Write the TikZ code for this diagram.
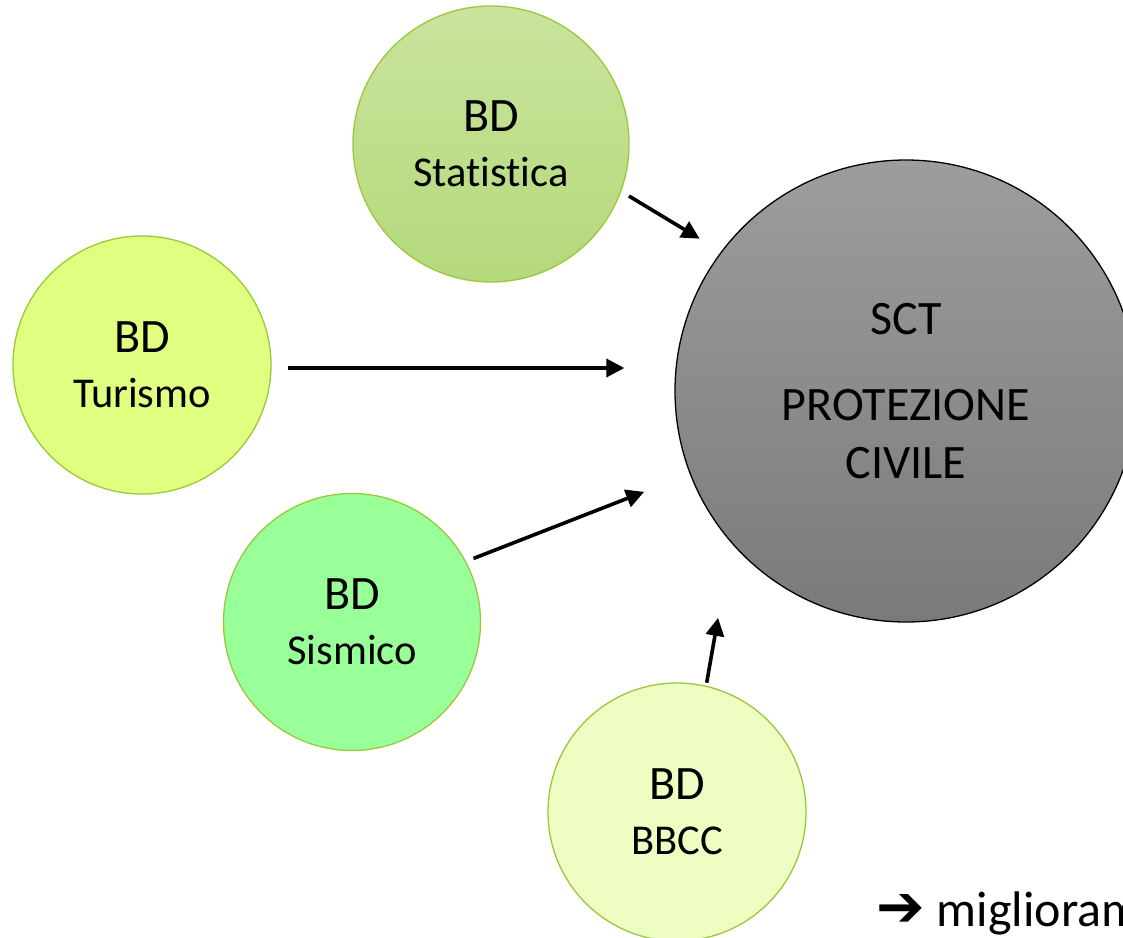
\documentclass[tikz,border=0pt]{standalone}
\usepackage{fontspec}
\setmainfont[Ligatures=NoCommon]{Carlito}
\newfontfamily\symfont{DejaVu Sans}
\usetikzlibrary{arrows.meta,calc}
\definecolor{bdborder}{HTML}{9BC83A}
\definecolor{statTop}{HTML}{C9E49D}
\definecolor{statBot}{HTML}{B4D97B}
\definecolor{turFill}{HTML}{E0FF80}
\definecolor{sisFill}{HTML}{99FF99}
\definecolor{bbFill}{HTML}{EEFDC2}
\definecolor{sctTop}{HTML}{9D9D9D}
\definecolor{sctBot}{HTML}{7A7A7A}
\newcommand{\bdsmall}[1]{{\fontsize{42.5}{55}\selectfont #1}}
\tikzset{
  bdcircle/.style={circle, draw=bdborder, line width=1.3pt, inner sep=0pt, align=center, text=black,
    font=\fontsize{48}{55}\selectfont},
  sctcircle/.style={circle, draw=black, line width=1.3pt, inner sep=0pt, align=center, minimum size=462pt,
    top color=sctTop, bottom color=sctBot, font=\fontsize{48}{58}\selectfont},
  conn/.style={line width=3.6pt, -{Triangle[length=18pt,width=18pt]}},
}
\begin{document}
\begin{tikzpicture}[x=1pt,y=-1pt]
\useasboundingbox (0,0) rectangle (1123,937);
\clip (0,0) rectangle (1123,937);
% nodes
\node[sctcircle] (sct) at (906,391) {SCT\\[28pt]PROTEZIONE\\CIVILE};
\node[bdcircle, minimum size=276pt, top color=statTop, bottom color=statBot] (stat) at (491,144)
  {BD\\\bdsmall{Statistica}};
\node[bdcircle, minimum size=258pt, fill=turFill] (tur) at (142,365)
  {BD\\\bdsmall{Turismo}};
\node[bdcircle, minimum size=257pt, fill=sisFill] (sis) at (352,622)
  {BD\\\bdsmall{Sismico}};
\node[bdcircle, minimum size=258pt, fill=bbFill] (bbcc) at (677,812)
  {BD\\\bdsmall{BBCC}};
% connectors
\draw[conn, shorten <=9pt, shorten >=25pt] (stat.-20) -- (sct.143.4);
\draw[conn, shorten <=16pt, shorten >=50pt] ([yshift=-3pt]tur.east) -- ([yshift=-3pt]tur.east -| sct.west);
\draw[conn, shorten <=8pt, shorten >=49pt] (sis.28) -- (sct.201.3);
\draw[conn, shorten <=3pt, shorten >=76pt] (bbcc.77.3) -- (sct.221.8);
% bottom note
\node[anchor=base west, inner sep=0pt, font=\fontsize{50}{52}\selectfont] (note) at (876,926)
  {{\symfont\fontsize{58}{60}\selectfont ➔}\hspace{12pt}miglioramento};
\end{tikzpicture}
\end{document}
